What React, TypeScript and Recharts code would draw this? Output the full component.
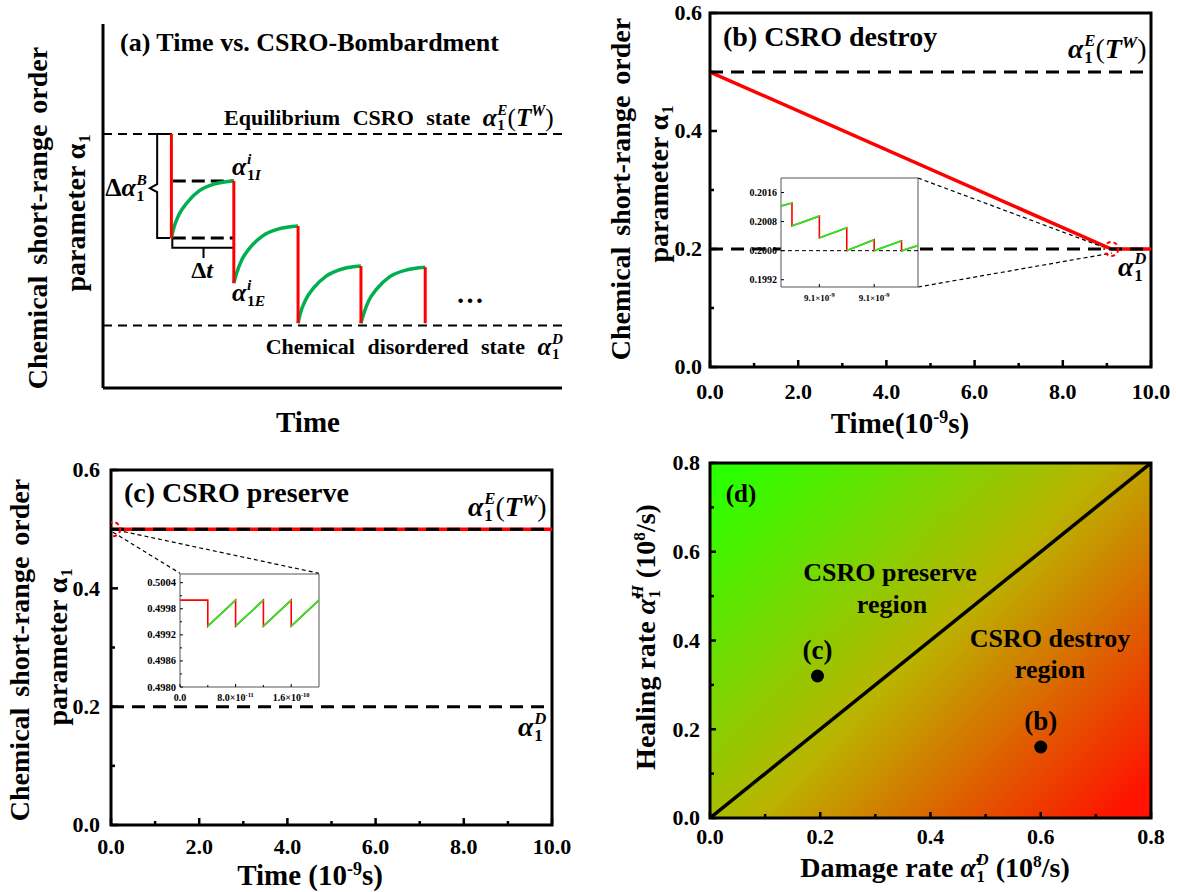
import React from "react";
import {
  ComposedChart,
  Line,
  Scatter,
  XAxis,
  YAxis,
  ReferenceArea,
  CartesianGrid,
} from "recharts";

const FONT = '"Liberation Serif", "Times New Roman", Times, serif';
const RED = "#ff0000";
const GREEN_A = "#00b050";
const GREEN_I = "#22ee22";

// ---------- (a) schematic, arbitrary units ----------
const aEquilibrium = 0.698;
const aDisordered = 0.172;
const aDropTime = [1.49, 2.85, 4.25, 5.62, 7.02];
const aDropTop = [0.698, 0.569, 0.445, 0.335, 0.332];
const aDropBottom = [0.412, 0.288, 0.178, 0.178, 0.178];
const aArcTime = [
  [1.49, 1.54, 1.65, 1.83, 2.1, 2.44, 2.85],
  [2.85, 2.91, 3.02, 3.2, 3.48, 3.83, 4.25],
  [4.25, 4.3, 4.41, 4.59, 4.87, 5.21, 5.62],
  [5.62, 5.68, 5.79, 5.97, 6.25, 6.6, 7.02],
];
const aArcValue = [
  [0.412, 0.439, 0.475, 0.509, 0.542, 0.561, 0.569],
  [0.288, 0.315, 0.351, 0.385, 0.418, 0.437, 0.445],
  [0.178, 0.205, 0.241, 0.275, 0.308, 0.327, 0.335],
  [0.178, 0.204, 0.24, 0.273, 0.306, 0.324, 0.332],
];
const aMarkTime = [1.52, 2.85];
const aMarkValue = [0.569, 0.412];
const aBraceVTime = [1.46, 1.18, 1.18, 1.02, 1.18, 1.18, 1.46];
const aBraceVValue = [0.698, 0.698, 0.56, 0.549, 0.538, 0.412, 0.412];
const aBraceHTime = [1.51, 1.51, 2.19, 2.19, 2.19, 2.85];
const aBraceHValue = [0.412, 0.385, 0.385, 0.357, 0.385, 0.385];

// ---------- (b) CSRO destroy ----------
const bTime = [0, 9.1, 10];
const bAlpha = [0.5, 0.2, 0.2];
const bEquilibrium = 0.5;
const bDisordered = 0.2;
const bXTicks = [0, 1, 2, 3, 4, 5, 6, 7, 8, 9, 10];
const bYTicks = [0, 0.1, 0.2, 0.3, 0.4, 0.5, 0.6];
const bZoom = [{ x: 9.1, y: 0.2 }];
const bLinkUpperT = [4.717, 8.91];
const bLinkUpperV = [0.3203, 0.2034];
const bLinkLowerT = [4.717, 9.116];
const bLinkLowerV = [0.1356, 0.1932];

// inset (b)
const ibTime = [9.0988, 9.099, 9.099, 9.0995, 9.0995, 9.1, 9.1, 9.1005, 9.1005, 9.101, 9.101, 9.1013];
const ibAlpha = [0.20123, 0.20131, 0.20068, 0.20095, 0.20035, 0.20063, 0.2, 0.2003, 0.2, 0.20027, 0.2, 0.20014];
const ibXTicks = [9.0995, 9.1005];
const ibYTicks = [0.1992, 0.2, 0.2008, 0.2016];

// ---------- (c) CSRO preserve ----------
const cTime = [0, 10];
const cAlpha = [0.5, 0.5];
const cEquilibrium = 0.5;
const cDisordered = 0.2;
const cZoom = [{ x: 0.05, y: 0.5 }];
const cLinkLeftT = [0.045, 1.565];
const cLinkLeftV = [0.4949, 0.4254];
const cLinkRightT = [0.136, 4.717];
const cLinkRightV = [0.4983, 0.4254];

// inset (c), time in 1e-11 s
const icTime = [0, 4, 4, 8, 8, 12, 12, 16, 16, 20];
const icAlpha = [0.5, 0.5, 0.4994, 0.5, 0.4994, 0.5, 0.4994, 0.5, 0.4994, 0.5];
const icXTicks = [0, 4, 8, 12, 16];
const icYTicks = [0.498, 0.4983, 0.4986, 0.4989, 0.4992, 0.4995, 0.4998, 0.5001, 0.5004];

// ---------- (d) phase map ----------
const dBoundary = [0, 0.8];
const dTicks = [0, 0.1, 0.2, 0.3, 0.4, 0.5, 0.6, 0.7, 0.8];
const dCases = [
  { x: 0.195, y: 0.32, name: "(c)" },
  { x: 0.6, y: 0.16, name: "(b)" },
];

const pts = (xs: number[], ys: number[]) => xs.map((x, i) => ({ x, y: ys[i] }));

const lp = {
  dataKey: "y",
  dot: false,
  activeDot: false,
  isAnimationActive: false,
  legendType: "none" as const,
};

// plot boxes in page pixels
const PA = { left: 103, top: 24, w: 459, h: 364 };
const PB = { left: 710, top: 13, w: 441, h: 354 };
const PC = { left: 111, top: 470, w: 441, h: 355 };
const PD = { left: 710, top: 463, w: 441, h: 355 };
const IB = { left: 781, top: 178, w: 137, h: 109 };
const IC = { left: 180, top: 574, w: 139, h: 113 };

type Box = { left: number; top: number; w: number; h: number };

// axes take 1px (x: height 1, y: width 1), margins are reduced to keep the plot box exact
function Frame({ box, pad, children }: { box: Box; pad: number[]; children: React.ReactNode }) {
  const w = box.w + pad[1] + pad[3];
  const h = box.h + pad[0] + pad[2];
  return (
    <div style={{ position: "absolute", left: box.left - pad[3], top: box.top - pad[0], width: w, height: h }}>
      <ComposedChart width={w} height={h} margin={{ top: pad[0], right: pad[1], bottom: pad[2] - 1, left: pad[3] - 1 }}>
        {children}
      </ComposedChart>
    </div>
  );
}

type TickOpt = {
  labelAt: (i: number) => boolean;
  fmt: (v: number) => React.ReactNode;
  off: number;
  fs: number;
  major: number;
  minor: number;
  sw: number;
};

const xTick = (o: TickOpt) => (p: any) => {
  const lab = o.labelAt(p.index);
  return (
    <g>
      <line x1={p.x} x2={p.x} y1={p.y} y2={p.y - (lab ? o.major : o.minor)} stroke="#000" strokeWidth={o.sw} />
      {lab && (
        <text x={p.x} y={p.y + o.off} dy="0.34em" textAnchor="middle" fontFamily={FONT} fontWeight="bold" fontSize={o.fs} fill="#000">
          {o.fmt(p.payload.value)}
        </text>
      )}
    </g>
  );
};

const yTick = (o: TickOpt) => (p: any) => {
  const lab = o.labelAt(p.index);
  return (
    <g>
      <line x1={p.x} x2={p.x + (lab ? o.major : o.minor)} y1={p.y} y2={p.y} stroke="#000" strokeWidth={o.sw} />
      {lab && (
        <text x={p.x - o.off} y={p.y} dy="0.34em" textAnchor="end" fontFamily={FONT} fontWeight="bold" fontSize={o.fs} fill="#000">
          {o.fmt(p.payload.value)}
        </text>
      )}
    </g>
  );
};

const even = (i: number) => i % 2 === 0;
const always = () => true;
const f1 = (v: number) => v.toFixed(1);
const f4 = (v: number) => v.toFixed(4);

const axisBase = {
  type: "number" as const,
  tickSize: 0,
  tickMargin: 0,
  tickLine: false,
  axisLine: false,
  interval: 0 as const,
  allowDataOverflow: true,
};

// ---------- text helpers ----------
const baseText: React.CSSProperties = {
  position: "absolute",
  fontFamily: FONT,
  fontWeight: "bold",
  whiteSpace: "nowrap",
  lineHeight: 1,
  color: "#000",
};

function Txt({
  x,
  y,
  size,
  anchor = "middle",
  rotate = false,
  ws,
  children,
}: {
  x: number;
  y: number;
  size: number;
  anchor?: "start" | "middle" | "end";
  rotate?: boolean;
  ws?: number;
  children: React.ReactNode;
}) {
  const tx = anchor === "start" ? "0" : anchor === "end" ? "-100%" : "-50%";
  return (
    <div
      style={{
        ...baseText,
        left: x,
        top: y,
        fontSize: size,
        wordSpacing: ws,
        transform: `translate(${tx}, -50%)${rotate ? " rotate(-90deg)" : ""}`,
      }}
    >
      {children}
    </div>
  );
}

const Sc = ({ sup, sub }: { sup?: React.ReactNode; sub?: React.ReactNode }) => (
  <span
    style={{
      display: "inline-flex",
      flexDirection: "column",
      fontSize: "0.6em",
      verticalAlign: "0.7em",
      lineHeight: 1,
      marginLeft: "0.04em",
    }}
  >
    <span style={{ fontStyle: "italic" }}>{sup ?? "\u00a0"}</span>
    <span>{sub ?? "\u00a0"}</span>
  </span>
);

// alpha, optionally with a rate dot (combining dot above)
const Al = ({ dot = false }: { dot?: boolean }) => (
  <span style={{ fontStyle: "italic" }}>{dot ? "α\u0307" : "α"}</span>
);

const Sup = ({ children }: { children: React.ReactNode }) => (
  <span style={{ fontSize: "0.62em", verticalAlign: "0.6em" }}>{children}</span>
);

const EqLabel = () => (
  <>
    <Al />
    <Sc sup="E" sub="1" />
    <span style={{ fontWeight: "normal" }}>(</span>
    <i>T</i>
    <Sup>
      <i>W</i>
    </Sup>
    <span style={{ fontWeight: "normal" }}>)</span>
  </>
);

export default function App() {
  const bx = xTick({ labelAt: even, fmt: f1, off: 25, fs: 22, major: 7, minor: 4, sw: 2.5 });
  const by = yTick({ labelAt: even, fmt: f1, off: 8, fs: 22, major: 7, minor: 4, sw: 2.5 });
  const cx = xTick({ labelAt: even, fmt: f1, off: 22, fs: 22, major: 7, minor: 4, sw: 2.5 });
  const cy = yTick({ labelAt: even, fmt: f1, off: 11, fs: 22, major: 7, minor: 4, sw: 2.5 });
  const dx = xTick({ labelAt: even, fmt: f1, off: 19, fs: 22, major: 6, minor: 4, sw: 2.5 });
  const dy = yTick({ labelAt: even, fmt: f1, off: 10, fs: 22, major: 6, minor: 4, sw: 2.5 });
  const ibx = xTick({
    labelAt: always,
    fmt: (v) => (
      <>
        {v.toFixed(1)}×10
        <tspan dy={-4} fontSize={6.5}>
          -9
        </tspan>
      </>
    ),
    off: 11,
    fs: 9,
    major: 3,
    minor: 2,
    sw: 1,
  });
  const iby = yTick({ labelAt: always, fmt: f4, off: 4, fs: 10, major: 3, minor: 2, sw: 1 });
  const icLabels: Record<number, React.ReactNode> = {
    0: "0.0",
    8: (
      <>
        8.0×10
        <tspan dy={-4} fontSize={6.5}>
          -11
        </tspan>
      </>
    ),
    16: (
      <>
        1.6×10
        <tspan dy={-4} fontSize={6.5}>
          -10
        </tspan>
      </>
    ),
  };
  const icx = xTick({ labelAt: even, fmt: (v) => icLabels[v], off: 11, fs: 10, major: 3, minor: 2, sw: 1 });
  const icy = yTick({ labelAt: even, fmt: f4, off: 4, fs: 10.5, major: 3, minor: 2, sw: 1 });

  const zoomRing = (p: any) => (
    <circle cx={p.cx} cy={p.cy} r={7} fill="none" stroke={RED} strokeWidth={2} strokeDasharray="4 3" />
  );

  return (
    <div style={{ position: "absolute", left: 0, top: 0, width: 1177, height: 892, background: "#fff", overflow: "hidden" }}>
      {/* (a) */}
      <Frame box={PA} pad={[10, 10, 10, 10]}>
        <XAxis {...axisBase} dataKey="x" domain={[0, 10]} height={1} tick={false} axisLine={{ stroke: "#000", strokeWidth: 3 }} />
        <YAxis {...axisBase} dataKey="y" domain={[0, 1]} width={1} tick={false} axisLine={{ stroke: "#000", strokeWidth: 3 }} />
        <Line {...lp} data={pts([0, 10], [aEquilibrium, aEquilibrium])} stroke="#000" strokeWidth={2} strokeDasharray="9 6" />
        <Line {...lp} data={pts([0, 10], [aDisordered, aDisordered])} stroke="#000" strokeWidth={2} strokeDasharray="9 6" />
        {aMarkValue.map((v, i) => (
          <Line key={"m" + i} {...lp} data={pts(aMarkTime, [v, v])} stroke="#000" strokeWidth={3} strokeDasharray="13 6" />
        ))}
        <Line {...lp} data={pts(aBraceVTime, aBraceVValue)} stroke="#000" strokeWidth={2} />
        <Line {...lp} data={pts(aBraceHTime, aBraceHValue)} stroke="#000" strokeWidth={2} />
        {aArcTime.map((ts, i) => (
          <Line key={"g" + i} {...lp} type="monotone" data={pts(ts, aArcValue[i])} stroke={GREEN_A} strokeWidth={3.5} />
        ))}
        {aDropTime.map((t, i) => (
          <Line key={"r" + i} {...lp} data={pts([t, t], [aDropTop[i], aDropBottom[i]])} stroke={RED} strokeWidth={3} />
        ))}
      </Frame>

      {/* (b) */}
      <Frame box={PB} pad={[15, 26, 40, 45]}>
        <XAxis {...axisBase} dataKey="x" domain={[0, 10]} ticks={bXTicks} height={1} tick={bx} />
        <YAxis {...axisBase} dataKey="y" domain={[0, 0.6]} ticks={bYTicks} width={1} tick={by} />
        <Line {...lp} data={pts(bTime, bAlpha)} stroke={RED} strokeWidth={3.5} />
        <Line {...lp} data={pts([0, 10], [bEquilibrium, bEquilibrium])} stroke="#000" strokeWidth={3} strokeDasharray="13 8" />
        <Line {...lp} data={pts([0, 10], [bDisordered, bDisordered])} stroke="#000" strokeWidth={3} strokeDasharray="13 8" />
        <Line {...lp} data={pts(bLinkUpperT, bLinkUpperV)} stroke="#000" strokeWidth={1.2} strokeDasharray="4 3" />
        <Line {...lp} data={pts(bLinkLowerT, bLinkLowerV)} stroke="#000" strokeWidth={1.2} strokeDasharray="4 3" />
        <Scatter data={bZoom} isAnimationActive={false} shape={zoomRing} />
        <ReferenceArea x1={0} x2={10} y1={0} y2={0.6} fill="none" stroke="#000" strokeWidth={3} />
      </Frame>

      {/* (c) */}
      <Frame box={PC} pad={[15, 26, 40, 45]}>
        <XAxis {...axisBase} dataKey="x" domain={[0, 10]} ticks={bXTicks} height={1} tick={cx} />
        <YAxis {...axisBase} dataKey="y" domain={[0, 0.6]} ticks={bYTicks} width={1} tick={cy} />
        <Line {...lp} data={pts(cTime, cAlpha)} stroke={RED} strokeWidth={3.5} />
        <Line {...lp} data={pts([0, 10], [cEquilibrium, cEquilibrium])} stroke="#000" strokeWidth={3} strokeDasharray="13 8" />
        <Line {...lp} data={pts([0, 10], [cDisordered, cDisordered])} stroke="#000" strokeWidth={3} strokeDasharray="13 8" />
        <Line {...lp} data={pts(cLinkLeftT, cLinkLeftV)} stroke="#000" strokeWidth={1.2} strokeDasharray="4 3" />
        <Line {...lp} data={pts(cLinkRightT, cLinkRightV)} stroke="#000" strokeWidth={1.2} strokeDasharray="4 3" />
        <Scatter data={cZoom} isAnimationActive={false} shape={zoomRing} />
        <ReferenceArea x1={0} x2={10} y1={0} y2={0.6} fill="none" stroke="#000" strokeWidth={3} />
      </Frame>

      {/* (d) */}
      <Frame box={PD} pad={[15, 26, 40, 45]}>
        <defs>
          <linearGradient id="dGrad" x1="0" y1="0.1" x2="1" y2="0.9">
            <stop offset="0" stopColor="#2cff00" />
            <stop offset="0.5" stopColor="#bab400" />
            <stop offset="1" stopColor="#ff1200" />
          </linearGradient>
        </defs>
        <CartesianGrid horizontal={false} vertical={false} fill="url(#dGrad)" />
        <XAxis {...axisBase} dataKey="x" domain={[0, 0.8]} ticks={dTicks} height={1} tick={dx} />
        <YAxis {...axisBase} dataKey="y" domain={[0, 0.8]} ticks={dTicks} width={1} tick={dy} />
        <Line {...lp} data={pts(dBoundary, dBoundary)} stroke="#000" strokeWidth={3.5} />
        <Scatter
          data={dCases}
          isAnimationActive={false}
          shape={(p: any) => <circle cx={p.cx} cy={p.cy} r={6.5} fill="#000" />}
        />
        <ReferenceArea x1={0} x2={0.8} y1={0} y2={0.8} fill="none" stroke="#000" strokeWidth={3} />
      </Frame>

      {/* inset (b) */}
      <Frame box={IB} pad={[4, 6, 18, 36]}>
        <CartesianGrid horizontal={false} vertical={false} fill="#fff" />
        <XAxis {...axisBase} dataKey="x" domain={[9.0988, 9.1013]} ticks={ibXTicks} height={1} tick={ibx} />
        <YAxis {...axisBase} dataKey="y" domain={[0.199, 0.202]} ticks={ibYTicks} width={1} tick={iby} />
        <Line {...lp} data={pts([9.0988, 9.1013], [0.2, 0.2])} stroke="#000" strokeWidth={1} strokeDasharray="4 3" />
        <Line {...lp} data={pts(ibTime, ibAlpha)} stroke={RED} strokeWidth={1.6} />
        {ibTime.map((t, i) =>
          i % 2 === 0 ? (
            <Line key={"ib" + i} {...lp} data={pts([t, ibTime[i + 1]], [ibAlpha[i], ibAlpha[i + 1]])} stroke={GREEN_I} strokeWidth={1.8} />
          ) : null
        )}
        <ReferenceArea x1={9.0988} x2={9.1013} y1={0.199} y2={0.202} fill="none" stroke="#555" strokeWidth={1} />
      </Frame>

      {/* inset (c) */}
      <Frame box={IC} pad={[4, 24, 18, 36]}>
        <CartesianGrid horizontal={false} vertical={false} fill="#fff" />
        <XAxis {...axisBase} dataKey="x" domain={[0, 20]} ticks={icXTicks} height={1} tick={icx} />
        <YAxis {...axisBase} dataKey="y" domain={[0.498, 0.5006]} ticks={icYTicks} width={1} tick={icy} />
        <Line {...lp} data={pts(icTime, icAlpha)} stroke={RED} strokeWidth={1.6} />
        {icTime.map((t, i) =>
          i % 2 === 0 && i > 0 ? (
            <Line key={"ic" + i} {...lp} data={pts([t, icTime[i + 1]], [icAlpha[i], icAlpha[i + 1]])} stroke={GREEN_I} strokeWidth={1.8} />
          ) : null
        )}
        <ReferenceArea x1={0} x2={20} y1={0.498} y2={0.5006} fill="none" stroke="#555" strokeWidth={1} />
      </Frame>

      {/* ---- text: (a) ---- */}
      <Txt x={120} y={43} size={26} anchor="start">(a) Time vs. CSRO-Bombardment</Txt>
      <Txt x={224} y={117} size={22} anchor="start" ws={7}>
        Equilibrium CSRO state{" "}
        <span style={{ fontSize: "1.15em" }}>
          <EqLabel />
        </span>
      </Txt>
      <Txt x={232} y={167} size={26} anchor="start">
        <Al />
        <Sc sup="i" sub={<>1<i>I</i></>} />
      </Txt>
      <Txt x={232} y={293} size={26} anchor="start">
        <Al />
        <Sc sup="i" sub={<>1<i>E</i></>} />
      </Txt>
      <Txt x={126} y={188} size={26}>
        Δ<Al />
        <Sc sup="B" sub="1" />
      </Txt>
      <Txt x={202} y={270} size={24}>
        Δ<i>t</i>
      </Txt>
      <Txt x={470} y={294} size={28}>…</Txt>
      <Txt x={563} y={346} size={22} anchor="end" ws={7}>
        Chemical disordered state{" "}
        <span style={{ fontSize: "1.15em" }}>
          <Al />
          <Sc sup="D" sub="1" />
        </span>
      </Txt>
      <Txt x={308} y={422} size={29}>Time</Txt>
      <Txt x={37.5} y={218} size={28} rotate ws={4}>Chemical short-range order</Txt>
      <Txt x={77} y={213} size={28} rotate>
        parameter α<Sc sub="1" />
      </Txt>

      {/* ---- text: (b) ---- */}
      <Txt x={723} y={37} size={28} anchor="start">(b) CSRO destroy</Txt>
      <Txt x={1068} y={50} size={28} anchor="start">
        <EqLabel />
      </Txt>
      <Txt x={1118} y={268} size={28} anchor="start">
        <Al />
        <Sc sup="D" sub="1" />
      </Txt>
      <Txt x={621} y={189} size={28} rotate ws={4}>Chemical short-range order</Txt>
      <Txt x={660} y={184} size={28} rotate>
        parameter α<Sc sub="1" />
      </Txt>
      <Txt x={900} y={423} size={29}>
        Time(10<Sup>-9</Sup>s)
      </Txt>

      {/* ---- text: (c) ---- */}
      <Txt x={124} y={493} size={28} anchor="start">(c) CSRO preserve</Txt>
      <Txt x={468} y={508} size={28} anchor="start">
        <EqLabel />
      </Txt>
      <Txt x={518} y={728} size={28} anchor="start">
        <Al />
        <Sc sup="D" sub="1" />
      </Txt>
      <Txt x={20} y={650} size={28} rotate ws={4}>Chemical short-range order</Txt>
      <Txt x={59} y={647} size={28} rotate>
        parameter α<Sc sub="1" />
      </Txt>
      <Txt x={310} y={875} size={29}>
        Time (10<Sup>-9</Sup>s)
      </Txt>

      {/* ---- text: (d) ---- */}
      <Txt x={741} y={493} size={25}>(d)</Txt>
      <Txt x={890} y={573} size={26}>CSRO preserve</Txt>
      <Txt x={892} y={605} size={26}>region</Txt>
      <Txt x={1050} y={639} size={26}>CSRO destroy</Txt>
      <Txt x={1050} y={670} size={26}>region</Txt>
      {dCases.map((c) => (
        <Txt
          key={c.name}
          x={PD.left + (c.x / 0.8) * PD.w}
          y={PD.top + PD.h - (c.y / 0.8) * PD.h - 26}
          size={27}
        >
          {c.name}
        </Txt>
      ))}
      <Txt x={647} y={637} size={28} rotate>
        Healing rate <Al dot />
        <Sc sup="H" sub="1" /> (10<Sup>8</Sup>/s)
      </Txt>
      <Txt x={935} y={869} size={28}>
        Damage rate <Al dot />
        <Sc sup="D" sub="1" /> (10<Sup>8</Sup>/s)
      </Txt>
    </div>
  );
}
